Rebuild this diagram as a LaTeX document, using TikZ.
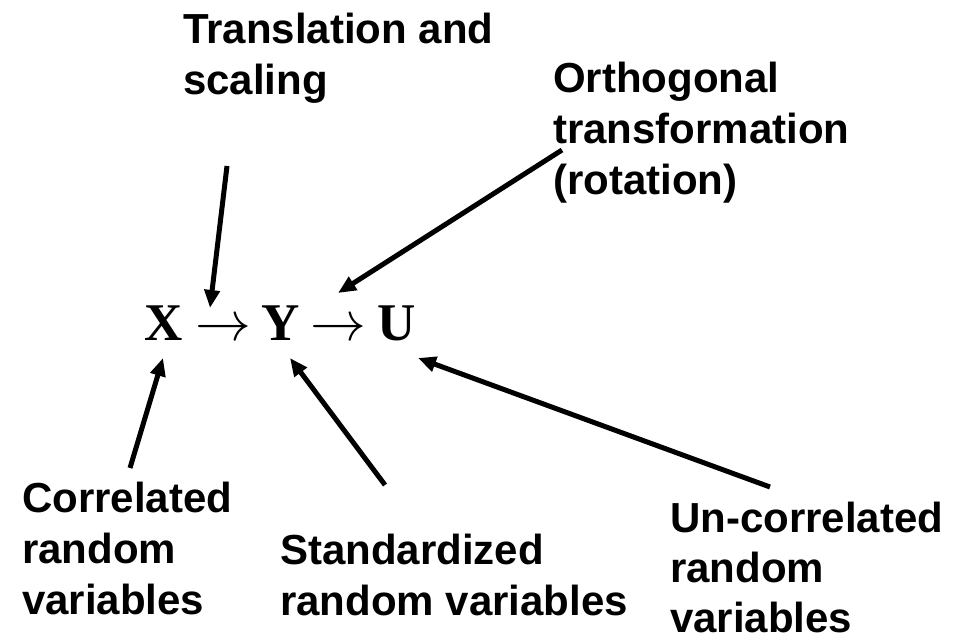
\documentclass[tikz,border=0pt]{standalone}
\usepackage{graphicx}
\usepackage{fontspec}
\setmainfont{Liberation Sans}
\newfontfamily\serifb{Liberation Serif}
\usetikzlibrary{arrows.meta}
\newcommand{\bigarrowglyph}{\scalebox{5.6}{\normalsize$\rightarrow$}}
\begin{document}
\begin{tikzpicture}[x=1bp,y=-1bp,
  lbl/.style={anchor=north west, inner sep=0pt, align=left,
    font=\fontsize{42bp}{51bp}\selectfont\bfseries},
  sym/.style={anchor=base west, inner sep=0pt,
    font=\fontsize{53bp}{60bp}\selectfont\serifb\bfseries},
  conn/.style={line width=5bp, line cap=butt,
    -{Triangle[length=18bp,width=15bp]}}]
\useasboundingbox[fill=white] (0,0) rectangle (962,640);

% labels
\node[lbl] (trans)  at (183,13)  {Translation and\\scaling};
\node[lbl] (orth)   at (553,62)  {Orthogonal\\transformation\\(rotation)};
\node[lbl] (corr)   at (22,482)  {Correlated\\random\\variables};
\node[lbl] (stand)  at (280,534) {Standardized\\random variables};
\node[lbl, font=\fontsize{42bp}{50bp}\selectfont\bfseries] (uncorr) at (670,502) {Un-correlated\\random\\variables};

% formula
\node[sym] (X)  at (144,340) {X};
\node[sym] (a1) at (195,340) {\bigarrowglyph};
\node[sym] (Y)  at (261,340) {Y};
\node[sym] (a2) at (310,340) {\bigarrowglyph};
\node[sym] (U)  at (377,340) {U};

% connector ends
\coordinate (tS) at (227,166);
\coordinate (tE) at (210,308);
\coordinate (oS) at (562,150);
\coordinate (oE) at (338,293);
\coordinate (cS) at (130,468);
\coordinate (cE) at (163,358);
\coordinate (sS) at (385,485);
\coordinate (sE) at (290,358);
\coordinate (uS) at (770,487);
\coordinate (uE) at (418,358);

\draw[conn] (tS) -- (tE);
\draw[conn] (oS) -- (oE);
\draw[conn] (cS) -- (cE);
\draw[conn] (sS) -- (sE);
\draw[conn] (uS) -- (uE);
\end{tikzpicture}
\end{document}
